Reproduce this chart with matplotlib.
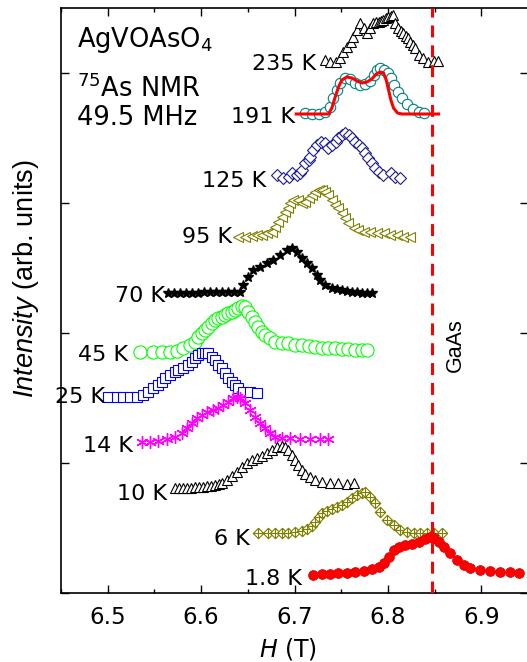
import matplotlib
matplotlib.use('Agg')
import matplotlib.pyplot as plt
from matplotlib.path import Path
from matplotlib.ticker import MultipleLocator

plt.rcParams['font.family'] = ['DejaVu Sans']
plt.rcParams['mathtext.fontset'] = 'custom'
plt.rcParams['mathtext.rm'] = 'Liberation Sans'
plt.rcParams['mathtext.it'] = 'Liberation Sans:italic'
plt.rcParams['mathtext.bf'] = 'Liberation Sans:bold'

# spectra, field H (T) and intensity (arb. units, offsets included)
T235_H = [6.733, 6.738, 6.744, 6.749, 6.752, 6.756, 6.760, 6.763, 6.767, 6.770, 6.774, 6.778,
          6.781, 6.784, 6.787, 6.790, 6.793, 6.795, 6.798, 6.800, 6.803, 6.805, 6.808, 6.811,
          6.814, 6.816, 6.819, 6.821, 6.824, 6.827, 6.829, 6.833, 6.838, 6.843, 6.849, 6.854]
T235_I = [53.3, 53.1, 53.1, 53.5, 54.1, 54.6, 55.1, 55.6, 56.3, 57.0, 56.5, 56.0,
          56.5, 57.0, 57.1, 57.1, 57.2, 57.3, 57.5, 57.6, 57.7, 57.8, 57.0, 56.5,
          56.2, 56.0, 55.7, 55.5, 55.1, 54.8, 54.5, 53.8, 53.5, 53.1, 53.2, 53.2]

T191_H = [6.7114, 6.7186, 6.7257, 6.7329, 6.7382, 6.7417, 6.7454, 6.7489, 6.7543, 6.7596,
          6.7650, 6.7703, 6.7757, 6.7811, 6.7846, 6.7882, 6.7918, 6.7953, 6.7996, 6.8032,
          6.8068, 6.8103, 6.8150, 6.8204, 6.8268, 6.8328, 6.8389]
T191_I = [48.0, 47.9, 47.9, 48.1, 48.6, 49.5, 50.3, 51.0, 51.5, 51.4,
          51.0, 50.8, 50.9, 51.2, 51.8, 52.3, 52.5, 52.3, 52.0, 51.5,
          50.8, 50.1, 49.5, 48.9, 48.4, 48.1, 48.0]

FIT191_H = [6.7018, 6.7364, 6.7400, 6.7436, 6.7471, 6.7507, 6.7561, 6.7615, 6.7668, 6.7722,
            6.7775, 6.7829, 6.7875, 6.7918, 6.7953, 6.7982, 6.8007, 6.8032, 6.8060, 6.8103,
            6.8150, 6.8542]
FIT191_I = [47.9, 47.9, 48.5, 49.6, 50.6, 51.3, 51.6, 51.5, 51.2, 51.0,
            51.1, 51.4, 51.9, 52.1, 52.0, 51.3, 50.3, 49.3, 48.5, 48.0,
            47.9, 47.9]

T125_H = [6.681, 6.688, 6.694, 6.697, 6.703, 6.706, 6.708, 6.711, 6.715, 6.717, 6.720, 6.724,
          6.728, 6.733, 6.736, 6.740, 6.744, 6.747, 6.751, 6.754, 6.758, 6.762, 6.765, 6.769,
          6.772, 6.776, 6.779, 6.783, 6.786, 6.790, 6.795, 6.803, 6.808, 6.813]
T125_I = [41.8, 41.5, 41.6, 42.0, 41.8, 42.0, 42.3, 43.0, 43.3, 43.6, 44.3, 44.8,
          45.1, 45.0, 44.5, 44.8, 45.1, 45.5, 45.8, 46.0, 45.8, 45.5, 45.1, 44.8,
          44.5, 44.0, 43.5, 43.0, 42.5, 42.1, 41.8, 42.0, 41.6, 41.5]

T95_H = [6.6400, 6.6471, 6.6543, 6.6597, 6.6650, 6.6704, 6.6757, 6.6793, 6.6828, 6.6865,
         6.6900, 6.6935, 6.6953, 6.6989, 6.7042, 6.7079, 6.7114, 6.7150, 6.7186, 6.7221,
         6.7257, 6.7293, 6.7329, 6.7364, 6.7400, 6.7436, 6.7471, 6.7507, 6.7543, 6.7578,
         6.7632, 6.7685, 6.7739, 6.7811, 6.7882, 6.7953, 6.8025, 6.8097, 6.8167, 6.8239]
T95_I = [35.6, 35.6, 35.7, 35.8, 35.8, 36.0, 36.1, 36.6, 37.1, 37.6,
         38.1, 38.5, 39.0, 39.3, 39.3, 39.0, 39.1, 39.5, 39.8, 40.1,
         40.3, 40.3, 40.1, 39.8, 39.3, 38.8, 38.5, 38.0, 37.5, 37.0,
         36.5, 36.3, 36.1, 36.1, 36.0, 36.0, 35.8, 35.8, 35.6, 35.6]

T70_H = [6.5650, 6.5711, 6.5775, 6.5839, 6.5904, 6.5968, 6.6032, 6.6096, 6.6161, 6.6225,
         6.6289, 6.6354, 6.6418, 6.6453, 6.6507, 6.6560, 6.6632, 6.6704, 6.6775, 6.6846,
         6.6918, 6.6972, 6.7025, 6.7079, 6.7132, 6.7186, 6.7240, 6.7275, 6.7329, 6.7400,
         6.7454, 6.7507, 6.7561, 6.7615, 6.7668, 6.7722, 6.7775, 6.7829]
T70_I = [30.0, 30.0, 30.0, 30.0, 30.0, 30.0, 30.1, 30.1, 30.1, 30.1,
         30.1, 30.1, 30.1, 30.8, 31.6, 32.3, 32.6, 33.0, 33.3, 33.8,
         34.3, 34.5, 34.1, 33.5, 33.0, 32.5, 31.8, 31.3, 30.8, 30.5,
         30.4, 30.3, 30.2, 30.1, 30.1, 30.0, 30.0, 30.0]

T45_H = [6.5346, 6.5489, 6.5579, 6.5668, 6.5740, 6.5810, 6.5882, 6.5936, 6.5971, 6.6007,
         6.6043, 6.6078, 6.6115, 6.6150, 6.6185, 6.6222, 6.6257, 6.6292, 6.6329, 6.6364,
         6.6400, 6.6436, 6.6471, 6.6507, 6.6543, 6.6579, 6.6614, 6.6650, 6.6686, 6.6739,
         6.6793, 6.6865, 6.6935, 6.7007, 6.7079, 6.7150, 6.7221, 6.7293, 6.7364, 6.7436,
         6.7507, 6.7578, 6.7650, 6.7722, 6.7775]
T45_I = [24.1, 24.1, 24.1, 24.1, 24.2, 24.5, 24.8, 25.1, 25.6, 26.0,
         26.3, 26.6, 27.0, 27.3, 27.5, 27.6, 27.8, 28.0, 28.1, 28.3,
         28.5, 28.7, 28.6, 28.1, 27.6, 27.1, 26.6, 26.1, 25.8, 25.5,
         25.1, 25.0, 25.0, 24.8, 24.8, 24.7, 24.6, 24.5, 24.5, 24.5,
         24.4, 24.4, 24.3, 24.3, 24.3]

T25_H = [6.5007, 6.5097, 6.5167, 6.5239, 6.5311, 6.5382, 6.5435, 6.5489, 6.5542, 6.5579,
         6.5614, 6.5668, 6.5721, 6.5757, 6.5810, 6.5864, 6.5900, 6.5936, 6.5971, 6.6007,
         6.6043, 6.6078, 6.6115, 6.6150, 6.6185, 6.6222, 6.6257, 6.6292, 6.6329, 6.6364,
         6.6400, 6.6453, 6.6525, 6.6597]
T25_I = [19.6, 19.6, 19.6, 19.6, 19.6, 19.8, 20.1, 20.5, 20.8, 21.1,
         21.5, 21.8, 22.1, 22.3, 22.5, 22.8, 23.1, 23.5, 23.8, 24.0,
         24.0, 24.0, 23.6, 23.3, 22.8, 22.5, 22.0, 21.5, 21.1, 20.8,
         20.5, 20.1, 20.1, 20.0]

T14_H = [6.5365, 6.5454, 6.5542, 6.5632, 6.5721, 6.5793, 6.5847, 6.5900, 6.5954, 6.6007,
         6.6061, 6.6132, 6.6185, 6.6239, 6.6292, 6.6346, 6.6382, 6.6418, 6.6471, 6.6525,
         6.6579, 6.6632, 6.6686, 6.6739, 6.6793, 6.6865, 6.6953, 6.7061, 6.7168, 6.7275,
         6.7364]
T14_I = [15.1, 15.1, 15.2, 15.4, 15.6, 16.0, 16.5, 17.0, 17.5, 17.8,
         18.1, 18.3, 18.5, 18.8, 19.1, 19.5, 19.6, 19.5, 19.0, 18.3,
         17.6, 17.0, 16.5, 16.0, 15.6, 15.5, 15.5, 15.4, 15.4, 15.4,
         15.4]

T10_H = [6.5721, 6.5764, 6.5807, 6.5850, 6.5893, 6.5936, 6.5979, 6.6021, 6.6064, 6.6107,
         6.6150, 6.6193, 6.6222, 6.6275, 6.6329, 6.6382, 6.6436, 6.6490, 6.6543, 6.6597,
         6.6650, 6.6704, 6.6757, 6.6811, 6.6865, 6.6900, 6.6935, 6.6972, 6.7007, 6.7042,
         6.7079, 6.7114, 6.7168, 6.7221, 6.7293, 6.7382, 6.7471, 6.7561, 6.7632]
T10_I = [10.5, 10.5, 10.5, 10.5, 10.5, 10.6, 10.6, 10.6, 10.7, 10.7,
         10.8, 10.9, 11.0, 11.3, 11.7, 12.1, 12.6, 13.0, 13.3, 13.5,
         13.7, 14.0, 14.3, 14.6, 14.7, 14.6, 14.3, 13.8, 13.3, 12.8,
         12.3, 11.9, 11.6, 11.3, 11.1, 11.0, 11.0, 10.9, 11.0]

T6_H = [6.6611, 6.6721, 6.6793, 6.6865, 6.6935, 6.7007, 6.7079, 6.7132, 6.7186, 6.7221,
        6.7257, 6.7293, 6.7347, 6.7400, 6.7454, 6.7507, 6.7561, 6.7615, 6.7668, 6.7722,
        6.7757, 6.7811, 6.7864, 6.7918, 6.7990, 6.8060, 6.8132, 6.8204, 6.8275, 6.8346,
        6.8418, 6.8489, 6.8579]
T6_I = [6.0, 6.0, 6.0, 6.0, 6.0, 6.1, 6.2, 6.4, 6.7, 7.1,
        7.6, 8.0, 8.2, 8.4, 8.6, 8.8, 9.1, 9.5, 9.8, 10.0,
        10.1, 9.6, 9.0, 8.1, 7.3, 6.8, 6.3, 6.1, 6.0, 6.0,
        6.0, 6.0, 6.0]

T18_H = [6.7203, 6.7293, 6.7382, 6.7471, 6.7561, 6.7650, 6.7739, 6.7829, 6.7900, 6.7953,
         6.8007, 6.8060, 6.8114, 6.8186, 6.8257, 6.8328, 6.8400, 6.8453, 6.8489, 6.8542,
         6.8596, 6.8668, 6.8739, 6.8810, 6.8882, 6.8989, 6.9096, 6.9203, 6.9311, 6.9400]
T18_I = [1.8, 1.9, 1.9, 2.0, 2.0, 2.1, 2.2, 2.4, 2.6, 3.0,
         3.6, 4.3, 4.6, 4.8, 4.9, 5.1, 5.4, 5.6, 5.5, 5.1,
         4.6, 4.0, 3.3, 2.8, 2.5, 2.3, 2.2, 2.1, 2.1, 2.0]

GAAS_H = 6.847

TEMP_LABELS = ['235 K', '191 K', '125 K', '95 K', '70 K', '45 K', '25 K', '14 K', '10 K', '6 K', '1.8 K']
LABEL_H = [6.7238, 6.7005, 6.6702, 6.6328, 6.5613, 6.5221, 6.4971, 6.5274, 6.5632, 6.6524, 6.7077]
LABEL_I = [52.3, 47.0, 40.6, 35.0, 29.1, 23.2, 19.0, 14.1, 9.3, 4.8, 0.8]

# diamond with a cross inside (6 K symbol)
diamond_cross = Path(
    [(0, 1), (1, 0), (0, -1), (-1, 0), (0, 1), (0, 1), (0, -1), (-1, 0), (1, 0)],
    [Path.MOVETO, Path.LINETO, Path.LINETO, Path.LINETO, Path.CLOSEPOLY,
     Path.MOVETO, Path.LINETO, Path.MOVETO, Path.LINETO])

fig = plt.figure(figsize=(5.27, 6.62), dpi=100)
ax = fig.add_axes([61 / 527, 69 / 662, 467 / 527, 585 / 662])

opn = dict(linestyle='none', markerfacecolor='white', markeredgewidth=0.8)
ax.plot(T235_H, T235_I, marker='^', ms=7, mec='black', **opn)
ax.plot(T191_H, T191_I, marker='o', ms=7.5, mec='#008080', **opn)
ax.plot(FIT191_H, FIT191_I, color='red', lw=2.2)
ax.plot(T125_H, T125_I, marker='D', ms=6, mec='#1a1a9a', **opn)
ax.plot(T95_H, T95_I, marker='<', ms=7.5, mec='#808000', **opn)
ax.plot(T70_H, T70_I, marker='*', ms=7.5, color='black', linestyle='none')
ax.plot(T45_H, T45_I, marker='o', ms=9.5, mec='#00ff00', **opn)
ax.plot(T25_H, T25_I, marker='s', ms=6.5, mec='#0000ff', **opn)
ax.plot(T14_H, T14_I, marker=(6, 2, 0), ms=9, color='#ff00ff', mew=1, linestyle='none')
ax.plot(T10_H, T10_I, marker='^', ms=7, mec='black', **opn)
ax.plot(T6_H, T6_I, marker=diamond_cross, ms=7.5, mec='#808000', **opn)
ax.plot(T18_H, T18_I, marker='o', ms=7, color='red', mec='#e00000', mew=0.6, linestyle='none')

ax.axvline(GAAS_H, color='red', lw=2.2, dashes=(3.9, 2.6), zorder=5)
ax.text(6.8718, 24.8, 'GaAs', rotation=90, ha='center', va='center',
        fontsize=15.5, family='Liberation Sans')

for lab, h, i in zip(TEMP_LABELS, LABEL_H, LABEL_I):
    ax.text(h, i, lab, ha='right', va='baseline', fontsize=16)

ax.text(0.034, 0.934, 'AgVOAsO$_4$', transform=ax.transAxes, fontsize=18.5,
        va='baseline', math_fontfamily='dejavusans')
ax.text(0.034, 0.848, '$^{75}$As NMR', transform=ax.transAxes, fontsize=18.5,
        va='baseline', math_fontfamily='dejavusans')
ax.text(0.034, 0.800, '49.5 MHz', transform=ax.transAxes, fontsize=18.5, va='baseline')

ax.set_xlim(6.45, 6.95)
ax.set_ylim(0, 58.5)
ax.set_xticks([6.5, 6.6, 6.7, 6.8, 6.9])
ax.set_xticklabels(['6.5', '6.6', '6.7', '6.8', '6.9'])
ax.xaxis.set_minor_locator(MultipleLocator(0.05))
ax.set_yticks([0, 13, 26, 39, 52])
ax.tick_params(which='both', direction='in', top=True, right=True, labelleft=False, width=1)
ax.tick_params(which='major', length=6, pad=9, labelsize=16.5)
ax.tick_params(which='minor', length=3)
for s in ax.spines.values():
    s.set_linewidth(1.2)

ax.set_xlabel(r'$\mathit{H}$ (T)', fontsize=17, math_fontfamily='dejavusans')
ax.xaxis.set_label_coords(0.486, -0.073)
ax.set_ylabel(r'$\mathit{Intensity}$ (arb. units)', fontsize=19.5, family='Liberation Sans')
ax.yaxis.set_label_coords(-0.043, 0.538)

fig.savefig('out.png', dpi=100)
